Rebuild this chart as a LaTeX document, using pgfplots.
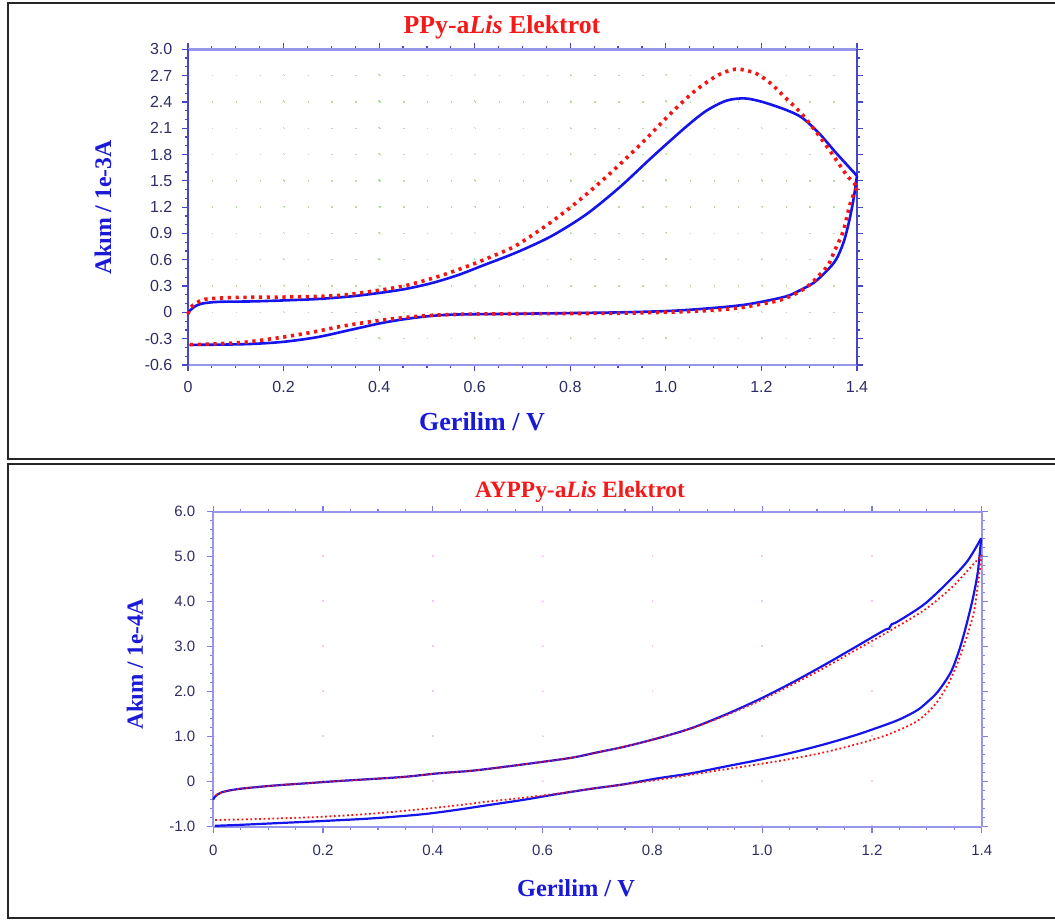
\documentclass[border=0pt]{standalone}
\usepackage{fontspec}
\setmainfont{Liberation Serif}
\newfontfamily\arial{Liberation Sans}
\usepackage{pgfplots}
\pgfplotsset{compat=1.18}

\definecolor{cvblue}{RGB}{20,20,235}
\definecolor{cvred}{RGB}{245,20,20}
\definecolor{ttl}{RGB}{245,25,25}
\definecolor{lbl}{RGB}{25,25,215}
\definecolor{tk}{RGB}{45,45,100}
\definecolor{axdark}{RGB}{70,70,200}
\definecolor{axlight}{RGB}{150,150,235}
\definecolor{grgreen}{RGB}{185,220,165}
\definecolor{grpink}{RGB}{240,200,240}

\pgfplotsset{
  cvstyle/.style={
    scale only axis, clip=false, anchor=south west,
    separate axis lines,
    tick align=outside, major tick length=3pt, minor tick length=1.6pt,
    every tick/.style={draw=axdark, line width=0.6pt},
    xmin=0, xmax=1.4,
    xtick={0,0.2,0.4,0.6,0.8,1.0,1.2,1.4},
    xticklabels={0,0.2,0.4,0.6,0.8,1.0,1.2,1.4},
    minor x tick num=3,
    grid=major,
  },
}

\begin{document}
\begin{tikzpicture}
\useasboundingbox (0,0) rectangle (527.5pt,-460pt);

\begin{scope}[x=0.5pt,y=-0.5pt]
  % frames
  \draw[line width=1pt, black!85] (1056,3.5) -- (7.5,3.5) -- (7.5,458.5) -- (1056,458.5);
  \draw[line width=1pt, black!85] (1056,464) -- (7.5,464) -- (7.5,918) -- (1056,918);
  % top panel texts
  \node[text=ttl] at (502,27) {\fontsize{12.9}{14}\selectfont\bfseries PPy-a\textit{Lis} Elektrot};
  \node[text=lbl, rotate=90] at (103,207.5) {\fontsize{11.9}{13}\selectfont\bfseries Akım / 1e-3A};
  \node[text=lbl] at (482,421.7) {\fontsize{13}{14}\selectfont\bfseries Gerilim / V};
  % bottom panel texts
  \node[text=ttl] at (580,491.7) {\fontsize{11.7}{13}\selectfont\bfseries AYPPy-a\textit{Lis} Elektrot};
  \node[text=lbl, rotate=90] at (135,664) {\fontsize{11.6}{13}\selectfont\bfseries Akım / 1e-4A};
  \node[text=lbl] at (576,888) {\fontsize{12.2}{13}\selectfont\bfseries Gerilim / V};
\end{scope}

% ---------- PPy-aLis
\begin{axis}[cvstyle,
  at={(94pt,-182.5pt)}, width=334.5pt, height=157.85pt,
  ymin=-0.6, ymax=3.0,
  ytick={-0.6,-0.3,0,0.3,0.6,0.9,1.2,1.5,1.8,2.1,2.4,2.7,3.0},
  yticklabels={-0.6,-0.3,0,0.3,0.6,0.9,1.2,1.5,1.8,2.1,2.4,2.7,3.0},
  minor y tick num=2,
  ticklabel style={font=\arial\fontsize{8}{9}\selectfont, text=tk},
  yticklabel style={xshift=-1.3pt},
  xticklabel style={yshift=-1.8pt},
  x axis line style={draw=axlight, line width=1.3pt},
  y axis line style={draw=axdark, line width=1.2pt},
  x grid style={draw=grgreen, line width=0.7pt, dash pattern=on 0.7pt off 12.47pt},
  y grid style={draw=grgreen, line width=0.7pt, dash pattern=on 0.7pt off 11.25pt},
]
\addplot[cvblue, line width=1.3pt, smooth] coordinates {
(0,0) (0.006,0.03) (0.015,0.07) (0.029,0.10) (0.063,0.12) (0.133,0.125)
(0.203,0.137) (0.273,0.153) (0.342,0.183) (0.398,0.22) (0.454,0.266)
(0.51,0.334) (0.565,0.425) (0.621,0.543) (0.663,0.63) (0.705,0.725)
(0.764,0.88) (0.834,1.12) (0.904,1.43) (0.973,1.78) (1.043,2.12)
(1.085,2.30) (1.127,2.415) (1.165,2.44) (1.202,2.40) (1.251,2.31)
(1.285,2.22) (1.321,2.04) (1.356,1.82) (1.40,1.557)};
\addplot[cvblue, line width=1.3pt, smooth] coordinates {
(1.40,1.557) (1.393,1.30) (1.384,1.05) (1.372,0.80) (1.356,0.60)
(1.336,0.47) (1.31,0.34) (1.28,0.25) (1.25,0.18) (1.18,0.10) (1.12,0.06)
(1.02,0.02) (0.90,0.0) (0.70,-0.015) (0.551,-0.026) (0.481,-0.057)
(0.412,-0.114) (0.342,-0.197) (0.273,-0.28) (0.203,-0.334) (0.133,-0.36)
(0.063,-0.368) (0.003,-0.37)};
\addplot[cvred, line width=1.8pt, smooth, dash pattern=on 1.6pt off 2.3pt] coordinates {
(0,-0.02) (0.006,0.06) (0.018,0.107) (0.036,0.15) (0.098,0.17) (0.203,0.175)
(0.308,0.19) (0.384,0.24) (0.454,0.304) (0.524,0.41) (0.593,0.543)
(0.663,0.70) (0.695,0.79) (0.757,1.018) (0.820,1.284) (0.884,1.588)
(0.948,1.921) (1.012,2.278) (1.059,2.517) (1.106,2.696) (1.137,2.764)
(1.155,2.772) (1.188,2.727) (1.219,2.613) (1.25,2.449) (1.282,2.278)
(1.314,2.062) (1.347,1.815) (1.378,1.568) (1.394,1.474) (1.40,1.42)};
\addplot[cvred, line width=1.8pt, smooth, dash pattern=on 1.6pt off 2.3pt] coordinates {
(1.40,1.42) (1.394,1.36) (1.385,1.227) (1.371,0.923) (1.354,0.714)
(1.34,0.543) (1.322,0.43) (1.305,0.335) (1.287,0.26) (1.263,0.19)
(1.235,0.133) (1.193,0.088) (1.151,0.05) (1.096,0.023) (1.019,0.005)
(0.90,-0.01) (0.70,-0.015) (0.586,-0.02) (0.496,-0.038) (0.412,-0.084)
(0.328,-0.152) (0.258,-0.228) (0.189,-0.29) (0.119,-0.34) (0.05,-0.36)
(0.003,-0.368)};
\end{axis}

% ---------- AYPPy-aLis
\begin{axis}[cvstyle,
  at={(106.65pt,-413.35pt)}, width=384.2pt, height=157.5pt,
  ymin=-1.0, ymax=6.0,
  ytick={-1,0,1,2,3,4,5,6},
  yticklabels={-1.0,0,1.0,2.0,3.0,4.0,5.0,6.0},
  minor y tick num=4,
  ticklabel style={font=\arial\fontsize{7.5}{9}\selectfont, text=tk},
  yticklabel style={xshift=-2.5pt},
  xticklabel style={yshift=-2.5pt},
  x axis line style={draw=axlight, line width=1.1pt},
  y axis line style={draw=axlight, line width=1.1pt},
  every tick/.style={draw=axlight!70!axdark, line width=0.6pt},
  x grid style={draw=grpink, line width=0.7pt, dash pattern=on 0.7pt off 21.8pt},
  y grid style={draw=grpink, line width=0.7pt, dash pattern=on 0.7pt off 54.1pt},
]
\addplot[cvblue, line width=1.1pt, smooth] coordinates {
(0,-0.40) (0.003,-0.333) (0.015,-0.236) (0.046,-0.162) (0.107,-0.089)
(0.167,-0.037) (0.228,0.015) (0.289,0.06) (0.35,0.11) (0.41,0.186)
(0.472,0.245) (0.532,0.333) (0.593,0.43) (0.654,0.535) (0.697,0.645)
(0.748,0.775) (0.809,0.963) (0.87,1.185) (0.931,1.48) (0.992,1.815)
(1.052,2.185) (1.113,2.593) (1.174,3.022) (1.223,3.37) (1.231,3.40)
(1.236,3.50) (1.247,3.56) (1.296,3.95) (1.344,4.50) (1.375,4.92) (1.399,5.41)};
\addplot[cvblue, line width=1.1pt, smooth] coordinates {
(1.399,5.41) (1.393,4.67) (1.384,4.08) (1.372,3.48) (1.36,2.96)
(1.344,2.44) (1.32,2.0) (1.30,1.76) (1.284,1.60) (1.26,1.44) (1.235,1.31)
(1.174,1.05) (1.113,0.83) (1.052,0.64) (0.992,0.48) (0.931,0.333)
(0.87,0.185) (0.809,0.074) (0.748,-0.058) (0.687,-0.16) (0.624,-0.28)
(0.563,-0.407) (0.502,-0.518) (0.441,-0.63) (0.38,-0.725) (0.289,-0.815)
(0.198,-0.874) (0.107,-0.926) (0.046,-0.96) (0.003,-0.98)};
\addplot[cvred, line width=0.9pt, smooth, dash pattern=on 0.9pt off 1.3pt] coordinates {
(0.005,-0.30) (0.015,-0.236) (0.046,-0.162) (0.107,-0.089) (0.167,-0.037)
(0.228,0.015) (0.289,0.06) (0.35,0.11) (0.41,0.186) (0.472,0.245)
(0.532,0.333) (0.593,0.43) (0.654,0.535) (0.697,0.645) (0.748,0.775)
(0.809,0.963) (0.87,1.18) (0.931,1.46) (0.992,1.78) (1.052,2.14)
(1.113,2.53) (1.174,2.95) (1.235,3.37) (1.296,3.82) (1.344,4.30)
(1.375,4.70) (1.4,5.04)};
\addplot[cvred, line width=0.9pt, smooth, dash pattern=on 0.9pt off 1.3pt] coordinates {
(1.4,5.04) (1.393,4.37) (1.386,3.78) (1.372,3.19) (1.357,2.67) (1.338,2.15)
(1.314,1.70) (1.28,1.33) (1.223,1.02) (1.162,0.80) (1.101,0.62) (1.04,0.48)
(0.979,0.36) (0.919,0.25) (0.858,0.13) (0.797,0.02) (0.736,-0.08)
(0.687,-0.16) (0.624,-0.27) (0.563,-0.36) (0.502,-0.44) (0.441,-0.53)
(0.38,-0.61) (0.289,-0.71) (0.198,-0.78) (0.107,-0.82) (0.046,-0.84)
(0.003,-0.85)};
\end{axis}
\end{tikzpicture}
\end{document}
